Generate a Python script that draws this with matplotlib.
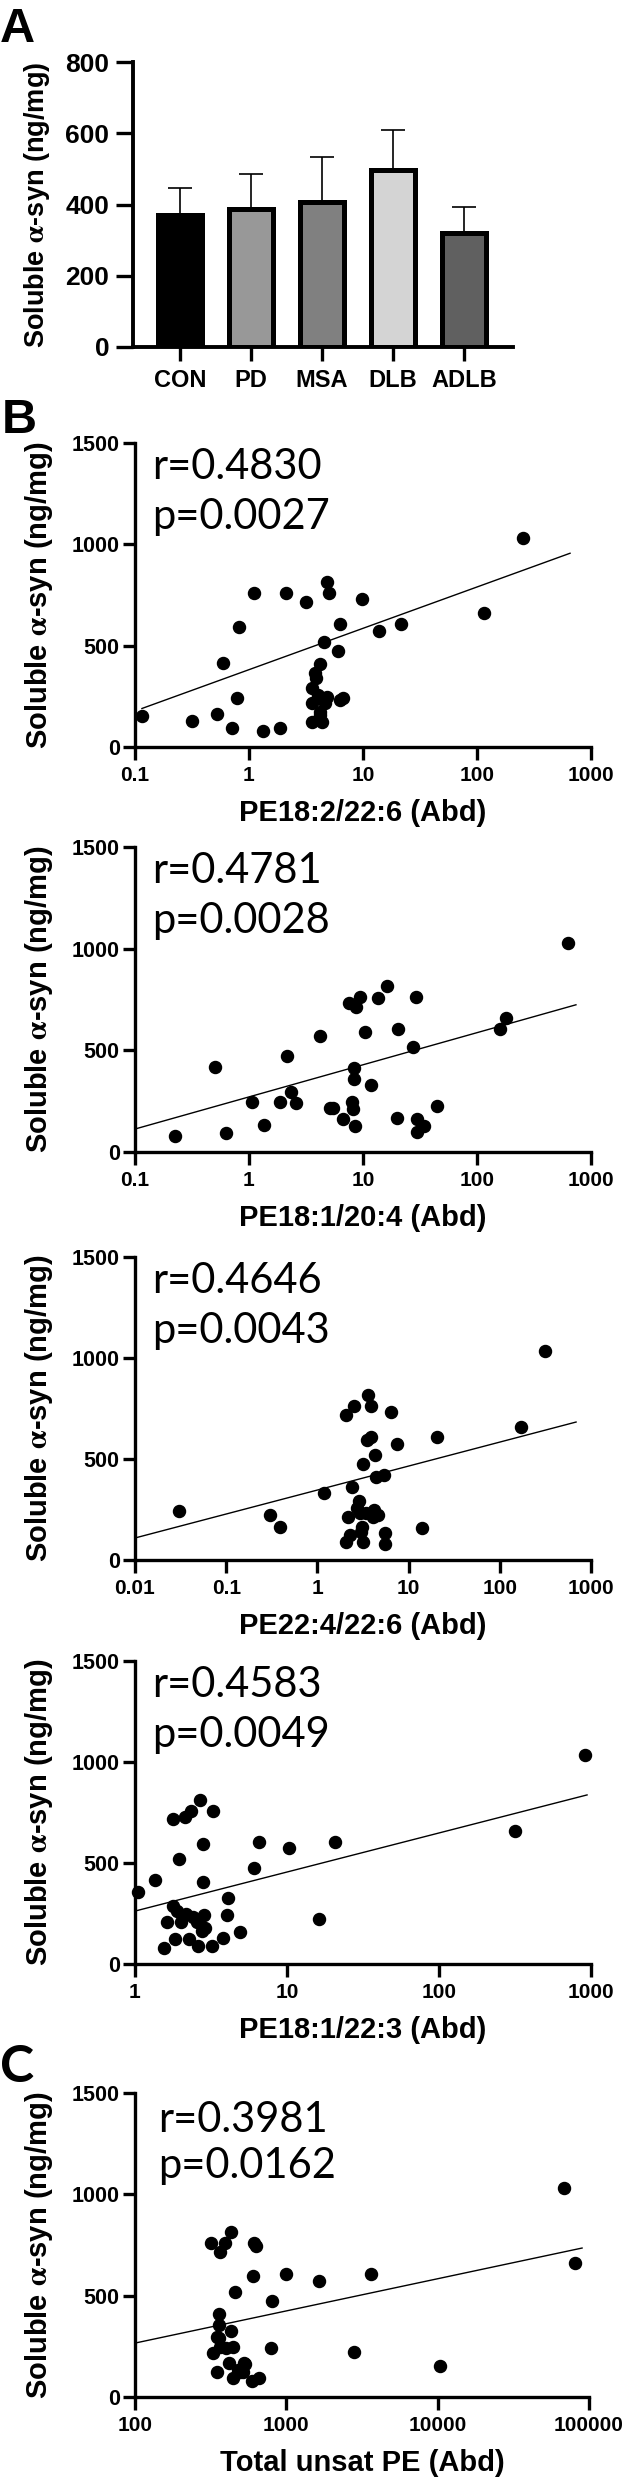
import numpy as np
import matplotlib
matplotlib.use("Agg")
import matplotlib.pyplot as plt

# ---- data ----
groups = ['CON', 'PD', 'MSA', 'DLB', 'ADLB']
group_means = [370, 388, 408, 497, 320]
group_sem = [75, 97, 126, 112, 74]
group_colors = ['#000000', '#989898', '#808080', '#d4d4d4', '#606060']

# B1: PE18:2/22:6
pe_182_226 = [0.115, 0.316, 0.524, 0.71, 0.59, 0.785, 0.816, 1.11, 1.33, 1.87,
              2.11, 3.16, 253, 115, 21.5, 13.8, 9.8, 6.3, 6.0, 4.83,
              5.0, 4.55, 4.2, 3.8, 3.9, 3.55, 4.0, 3.6, 4.6, 4.8,
              4.2, 3.55, 4.4, 6.3, 6.7, 4.0, 4.2]
syn_b1 = [153, 128, 163, 94, 414, 242, 592, 760, 79, 94,
          760, 716, 1031, 661, 607, 572, 730, 607, 474, 814,
          760, 518, 410, 365, 340, 291, 242, 217, 217, 247,
          173, 123, 123, 232, 242, 257, 158]

# B2: PE18:1/20:4
pe_181_204 = [0.224, 0.50, 0.63, 1.06, 1.35, 1.86, 2.15, 2.33, 2.58, 4.2,
              5.1, 5.5, 6.7, 7.5, 8.7, 9.4, 8.3, 8.3, 8.0, 8.2,
              8.5, 10.4, 11.8, 13.5, 16.2, 20.3, 19.9, 29.2, 27.5, 29.5,
              29.5, 34.3, 44.7, 158, 180, 631]
syn_b2 = [79, 419, 94, 246, 133, 246, 473, 296, 241, 571,
          217, 217, 163, 734, 714, 763, 414, 360, 246, 212,
          128, 591, 330, 759, 818, 606, 167, 763, 517, 163,
          99, 128, 227, 606, 660, 1030]

# B3: PE22:4/22:6
pe_224_226 = [0.030, 0.30, 0.39, 1.18, 2.06, 2.5, 2.15, 2.06, 2.3, 2.4,
              2.86, 2.9, 3.16, 3.1, 3.16, 3.5, 3.6, 3.9, 3.9, 4.2,
              4.1, 4.3, 4.4, 5.4, 5.5, 5.5, 6.4, 7.5, 14.0, 20.5,
              170, 312, 3.4, 2.7, 3.0, 4.6]
syn_b3 = [243, 223, 163, 332, 718, 762, 213, 89, 124, 361,
          292, 233, 475, 163, 89, 594, 817, 762, 609, 248,
          213, 520, 411, 421, 134, 79, 733, 574, 158, 609,
          658, 1035, 233, 258, 140, 222]

# B4: PE18:1/22:3
pe_181_223 = [1.05, 1.35, 1.55, 1.62, 1.78, 1.78, 1.83, 1.95, 2.0, 2.13,
              2.16, 2.27, 2.33, 2.56, 2.6, 2.68, 2.76, 2.8, 2.8, 2.85,
              3.26, 3.2, 3.8, 4.03, 4.1, 4.9, 6.1, 6.5, 10.3, 16.2,
              20.7, 316, 912, 2.4, 1.9, 2.9]
syn_b4 = [356, 416, 79, 208, 718, 287, 124, 520, 208, 728,
          248, 124, 757, 208, 89, 812, 163, 406, 594, 243,
          757, 89, 129, 243, 327, 158, 475, 604, 574, 223,
          604, 658, 1035, 232, 262, 180]

# C: total unsaturated PE
total_unsat_pe = [318, 365, 394, 431, 612, 631, 603, 458, 805, 1000,
                  359, 359, 431, 347, 328, 365, 399, 445, 418, 347,
                  445, 480, 533, 520, 592, 662, 793, 1650, 3630, 2800,
                  10300, 68400, 81000, 359, 524, 494]
syn_c = [760, 715, 760, 814, 760, 745, 597, 518, 474, 607,
         410, 355, 326, 296, 217, 247, 242, 247, 168, 123,
         94, 133, 163, 123, 79, 94, 242, 570, 607, 222,
         153, 1031, 661, 291, 168, 123]

# regression lines (end points)
fit_x = [[0.115, 655], [0.1, 738], [0.01, 686], [1, 942], [100, 90000]]
fit_y = [[190, 956], [113, 724], [109, 683], [262, 837], [266, 735]]

r_texts = ['r=0.4830', 'r=0.4781', 'r=0.4646', 'r=0.4583', 'r=0.3981']
p_texts = ['p=0.0027', 'p=0.0028', 'p=0.0043', 'p=0.0049', 'p=0.0162']
x_labels = ['PE18:2/22:6 (Abd)', 'PE18:1/20:4 (Abd)', 'PE22:4/22:6 (Abd)',
            'PE18:1/22:3 (Abd)', 'Total unsat PE (Abd)']
x_ticks = [[0.1, 1, 10, 100, 1000],
           [0.1, 1, 10, 100, 1000],
           [0.01, 0.1, 1, 10, 100, 1000],
           [1, 10, 100, 1000],
           [100, 1000, 10000, 100000]]
x_tick_labels = [['0.1', '1', '10', '100', '1000'],
                 ['0.1', '1', '10', '100', '1000'],
                 ['0.01', '0.1', '1', '10', '100', '1000'],
                 ['1', '10', '100', '1000'],
                 ['100', '1000', '10000', '100000']]

# ---- figure ----
W, H = 627, 2482
plt.rcParams['font.family'] = ['Liberation Sans', 'DejaVu Sans']
plt.rcParams['font.weight'] = 'bold'
plt.rcParams['axes.labelweight'] = 'bold'
plt.rcParams['mathtext.fontset'] = 'stix'

fig = plt.figure(figsize=(W / 100, H / 100), dpi=100)
ylab = r'Soluble $\mathrm{\alpha}$-syn (ng/mg)'


def rect(left, right, top, bottom):
    # pixel box -> figure fraction
    return [left / W, 1 - bottom / H, (right - left) / W, (bottom - top) / H]


def clean_axes(ax, lw=2.4):
    for s in ['top', 'right']:
        ax.spines[s].set_visible(False)
    for s in ['left', 'bottom']:
        ax.spines[s].set_linewidth(lw)
    for lab in ax.get_xticklabels() + ax.get_yticklabels():
        lab.set_fontweight('bold')


# panel A - bar chart
axA = fig.add_axes(rect(133, 513, 62, 347))
pos = np.arange(len(groups))
axA.errorbar(pos, group_means, yerr=[np.zeros(len(groups)), group_sem], fmt='none',
             ecolor='black', elinewidth=1.2, capsize=8.5, capthick=1.2, zorder=1)
axA.bar(pos, group_means, width=0.63, color=group_colors, edgecolor='black',
        linewidth=3.6, zorder=2)
axA.set_xlim(-0.66, 4.69)
axA.set_ylim(0, 800)
axA.set_yticks([0, 200, 400, 600, 800])
axA.set_xticks(pos)
axA.set_xticklabels(groups, fontsize=17)
axA.tick_params(axis='y', labelsize=19, length=12, width=2.4, pad=5)
axA.tick_params(axis='x', length=10, width=2.4, pad=6)
clean_axes(axA, 2.8)
axA.set_ylabel(ylab, fontsize=19.5)
axA.yaxis.set_label_coords((52 - 133) / 380, 0.5)
fig.text(0 / W, 1 - 42 / H, 'A', fontsize=35, fontweight='bold', va='baseline')

# scatter panels
boxes = [(443, 747), (847, 1152), (1257, 1560), (1661, 1964), (2093, 2397)]
xs = [pe_182_226, pe_181_204, pe_224_226, pe_181_223, total_unsat_pe]
ys = [syn_b1, syn_b2, syn_b3, syn_b4, syn_c]

for i in range(5):
    top, bottom = boxes[i]
    right = 589 if i == 4 else 591
    ax = fig.add_axes(rect(135, right, top, bottom))
    ax.scatter(xs[i], ys[i], s=75, color='black', zorder=3, clip_on=False)
    ax.plot(fit_x[i], fit_y[i], color='black', lw=1.0, zorder=2)
    ax.set_xscale('log')
    ax.set_xlim(x_ticks[i][0], x_ticks[i][-1])
    ax.set_ylim(0, 1500)
    ax.set_yticks([0, 500, 1000, 1500])
    ax.set_xticks(x_ticks[i])
    ax.set_xticklabels(x_tick_labels[i])
    ax.minorticks_off()
    ax.tick_params(axis='y', labelsize=15.5, length=9, width=2.4, pad=2)
    ax.tick_params(axis='x', labelsize=15, length=9, width=2.4, pad=5)
    clean_axes(ax)
    ax.set_ylabel(ylab, fontsize=21)
    ax.yaxis.set_label_coords((55 - 135) / 456, 0.5)
    ax.set_xlabel(x_labels[i], fontsize=21)
    ax.xaxis.set_label_coords(0.5, -52 / (bottom - top))
    tx = 158 if i == 4 else 152
    r_off, p_off = (39, 85) if i == 4 else (36, 86)
    fig.text(tx / W, 1 - (top + r_off) / H, r_texts[i], fontsize=30,
             family='Lato', fontweight='normal', va='baseline')
    fig.text(tx / W, 1 - (top + p_off) / H, p_texts[i], fontsize=30,
             family='Lato', fontweight='normal', va='baseline')

fig.text(2 / W, 1 - 433 / H, 'B', fontsize=35, fontweight='bold', va='baseline')
fig.text(0 / W, 1 - 2082 / H, 'C', fontsize=37, fontweight='bold', family='Lato',
         va='baseline')

fig.savefig('out.png', dpi=100)
